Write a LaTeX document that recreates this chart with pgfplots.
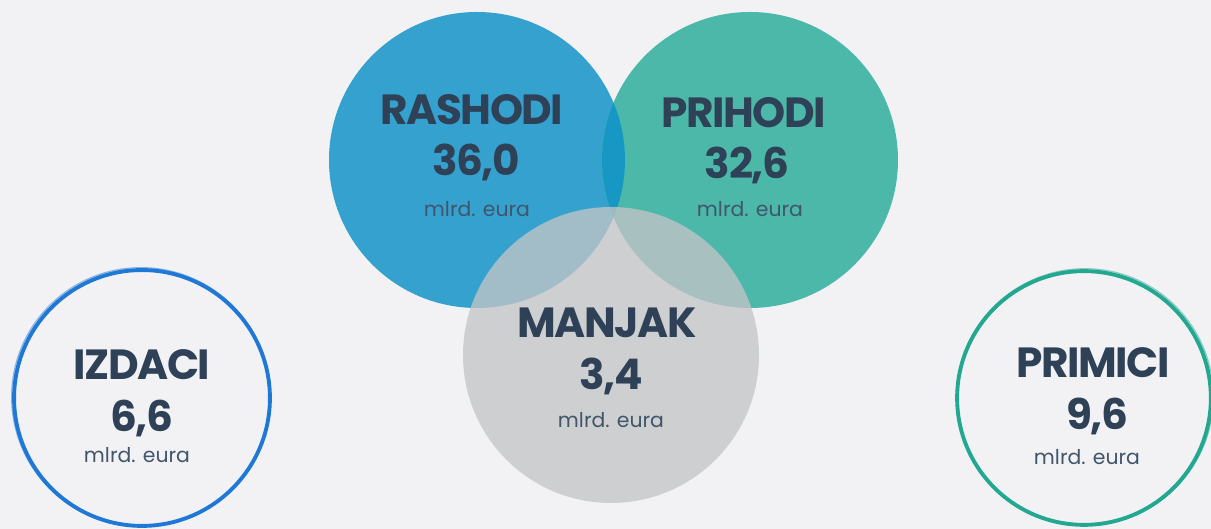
\documentclass[border=0pt]{standalone}
\usepackage{fontspec}
\setmainfont{Poppins}
\newfontfamily\hdfont{Poppins}[LetterSpace=-3.5]
\usepackage{pgfplots}
\pgfplotsset{compat=1.18}

% 1 axis unit = 1 px of the reference = 0.1mm = 0.28453pt
\definecolor{bgc}{HTML}{F2F2F5}
\definecolor{cblue}{HTML}{35A1CF}
\definecolor{cteal}{HTML}{4CB8AA}
\definecolor{clens}{HTML}{1798C4}
\definecolor{cgray}{HTML}{C4C5C7}
\definecolor{ring1}{HTML}{1F78D6}
\definecolor{ring2}{HTML}{22A891}
\definecolor{txt}{HTML}{2E4156}
\definecolor{sub}{HTML}{41556B}

% lens = blue circle (left) cut by teal circle (right), placed at midpoint
\pgfdeclareplotmark{lens}{%
  \pgfpathcircle{\pgfpoint{-38.84pt}{0pt}}{42.11pt}\pgfusepath{clip}%
  \pgfpathcircle{\pgfpoint{38.84pt}{0pt}}{42.11pt}\pgfusepath{fill}}

\newcommand\hd[1]{{\hdfont\fontsize{12pt}{12pt}\selectfont\bfseries #1}}
\newcommand\subt[1]{{\fontsize{5.8pt}{6pt}\selectfont\color{sub}#1}}

\begin{document}
\begin{tikzpicture}
\begin{axis}[
  scale only axis,
  width=12.11cm, height=5.29cm,
  xmin=0, xmax=1211, ymin=0, ymax=529,
  y dir=reverse,
  hide axis,
  clip marker paths=true,
]
\fill[bgc] (rel axis cs:0,0) rectangle (rel axis cs:1,1);

% filled circles (centre in px, radius 148 px)
\addplot[only marks, mark=*, mark size=42.11pt,
  mark options={draw opacity=0, fill=cblue}] coordinates {(477,160)};
\addplot[only marks, mark=*, mark size=42.11pt,
  mark options={draw opacity=0, fill=cteal}] coordinates {(750,160)};
\addplot[only marks, mark=lens,
  mark options={draw opacity=0, fill=clens}] coordinates {(613.5,160)};
\addplot[only marks, mark=*, mark size=42.11pt,
  mark options={draw opacity=0, fill=cgray, fill opacity=0.77}] coordinates {(611,355)};

% outline rings
\addplot[only marks, mark=o, mark size=36.4pt,
  mark options={draw=ring1, line width=1.1pt}] coordinates {(142,398)};
\addplot[only marks, mark=o, mark size=36.8pt,
  mark options={draw=ring1, line width=0.35pt, draw opacity=0.5}] coordinates {(141,397)};
\addplot[only marks, mark=o, mark size=36.1pt,
  mark options={draw=ring2, line width=1.1pt}] coordinates {(1084,398)};
\addplot[only marks, mark=o, mark size=36.5pt,
  mark options={draw=ring2, line width=0.35pt, draw opacity=0.5}] coordinates {(1085,397)};

% labels
\begin{scope}[every node/.style={anchor=base, inner sep=0pt, text=txt}]
\node at (axis cs:472,125) {\hd{RASHODI}};
\node at (axis cs:476,176) {\hd{36,0}};
\node at (axis cs:477,217) {\subt{mlrd. eura}};
\node at (axis cs:744,128) {\hd{PRIHODI}};
\node at (axis cs:747,179) {\hd{32,6}};
\node at (axis cs:750,217) {\subt{mlrd. eura}};
\node at (axis cs:607,338) {\hd{MANJAK}};
\node at (axis cs:611,390) {\hd{3,4}};
\node at (axis cs:611,428) {\subt{mlrd. eura}};
\node at (axis cs:142,380) {\hd{IZDACI}};
\node at (axis cs:142,432) {\hd{6,6}};
\node at (axis cs:137,463) {\subt{mlrd. eura}};
\node at (axis cs:1093,378) {\hd{PRIMICI}};
\node at (axis cs:1097,430) {\hd{9,6}};
\node at (axis cs:1087,465) {\subt{mlrd. eura}};
\end{scope}
\end{axis}
\end{tikzpicture}
\end{document}
